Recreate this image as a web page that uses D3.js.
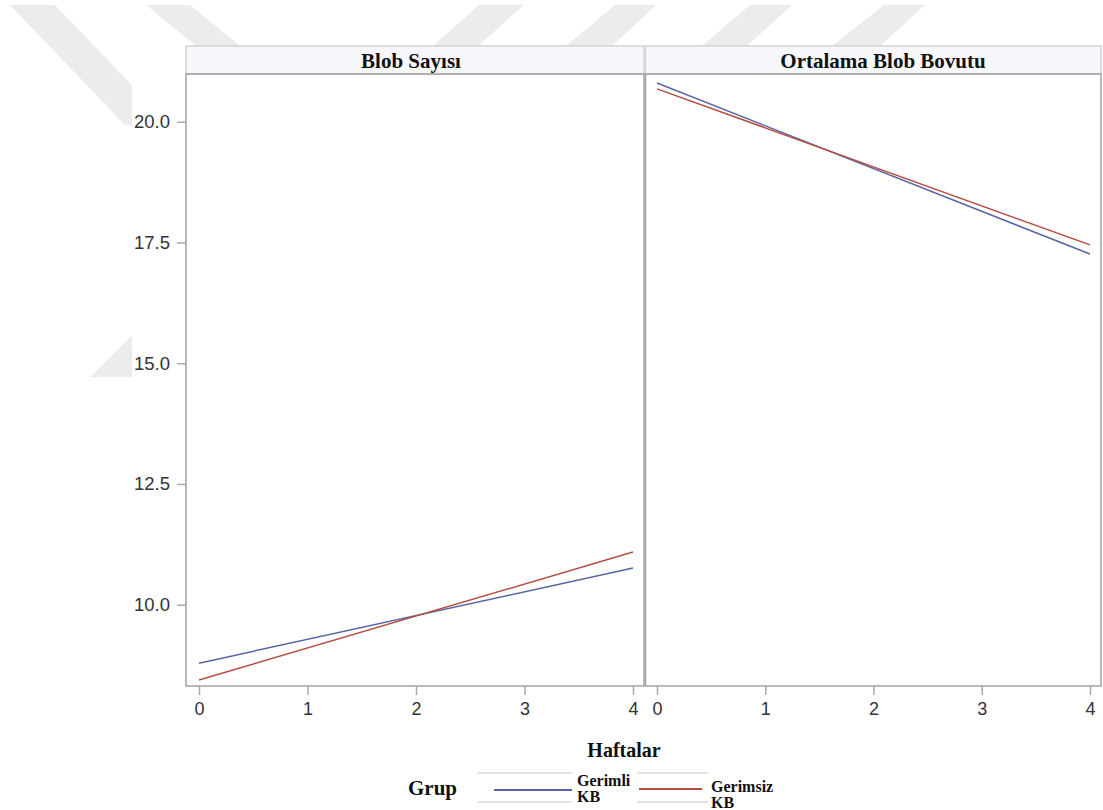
<!DOCTYPE html>
<html>
<head>
<meta charset="utf-8">
<script src="https://cdn.jsdelivr.net/npm/d3@7"></script>
<style>
  body { margin: 0; background: #fff; }
  svg { display: block; }
</style>
</head>
<body>
<svg id="chart"></svg>
<script>
let w = 1103
let h = 810

// data
const weeks = [0, 4]
const panelTitles = ["Blob Sayısı", "Ortalama Blob Bovutu"]
const groups = ["Gerimli KB", "Gerimsiz KB"]
const blobSayisiGerimli = [8.79, 10.76]
const blobSayisiGerimsiz = [8.44, 11.09]
const blobBoyutuGerimli = [20.80, 17.26]
const blobBoyutuGerimsiz = [20.68, 17.45]
const xTicks = [0, 1, 2, 3, 4]
const yTicks = [10.0, 12.5, 15.0, 17.5, 20.0]

const colors = ["#5766a3", "#b44c41"]

let svg = d3.select("#chart").attr("width", w).attr("height", h)

// faint watermark behind the chart image
let wm = [
  [[10, 5], [55, 5], [170, 125], [125, 125]],
  [[146, 5], [190, 5], [240, 46], [196, 46]],
  [[479, 5], [524, 5], [478, 46], [433, 46]],
  [[615, 5], [656, 5], [612, 46], [566, 46]],
  [[750, 5], [792, 5], [747, 46], [702, 46]],
  [[884, 5], [925, 5], [880, 46], [832, 46]],
  [[90, 377], [132, 335], [132, 377]]
]
svg.selectAll(".wm").data(wm).join("polygon")
  .attr("class", "wm")
  .attr("points", d => d.map(p => p.join(",")).join(" "))
  .attr("fill", "#ececec")

svg.append("rect")
  .attr("x", 132).attr("y", 46).attr("width", w - 132).attr("height", h - 46)
  .attr("fill", "#fff")

let plotTop = 74, plotBottom = 686, headTop = 46
let panels = [
  { left: 186, right: 644, x0: 199, x4: 633, tx: 411,
    series: [blobSayisiGerimli, blobSayisiGerimsiz] },
  { left: 645.5, right: 1101, x0: 657, x4: 1090, tx: 883,
    series: [blobBoyutuGerimli, blobBoyutuGerimsiz] }
]

let y = d3.scaleLinear().domain([10, 20]).range([604.7, 121.7])

panels.forEach((p, i) => {
  let x = d3.scaleLinear().domain([0, 4]).range([p.x0, p.x4])

  // header strip
  svg.append("rect")
    .attr("x", p.left).attr("y", headTop)
    .attr("width", p.right - p.left).attr("height", plotTop - headTop)
    .attr("fill", "#f6f8fb").attr("stroke", "#d2d2d2").attr("stroke-width", 1.5)
  svg.append("text")
    .attr("x", p.tx).attr("y", 68)
    .attr("text-anchor", "middle")
    .attr("font-family", "Liberation Serif, Times New Roman, serif")
    .attr("font-weight", "bold").attr("font-size", 21)
    .attr("fill", "#111")
    .text(panelTitles[i])

  // x axis
  let gx = svg.append("g")
    .attr("transform", `translate(0,${plotBottom})`)
    .call(d3.axisBottom(x).tickValues(xTicks).tickSize(9).tickPadding(7).tickFormat(d3.format("d")))
  gx.select(".domain").remove()
  gx.selectAll("line").attr("stroke", "#a8a8a8").attr("stroke-width", 1.5)
  gx.selectAll("text").attr("font-family", "Liberation Sans, Arial, sans-serif")
    .attr("font-size", 18).attr("fill", "#333")

  // lines
  let line = d3.line().x((d, k) => x(weeks[k])).y(d => y(d))
  p.series.forEach((s, k) => {
    svg.append("path")
      .attr("d", line(s))
      .attr("fill", "none")
      .attr("stroke", colors[k])
      .attr("stroke-width", 1.5)
  })

  // frame
  svg.append("rect")
    .attr("x", p.left).attr("y", plotTop)
    .attr("width", p.right - p.left).attr("height", plotBottom - plotTop)
    .attr("fill", "none").attr("stroke", "#a3a3a3").attr("stroke-width", 1.5)
})

// y axis on the left panel only
let gy = svg.append("g")
  .attr("transform", `translate(${panels[0].left},0)`)
  .call(d3.axisLeft(y).tickValues(yTicks).tickSize(9).tickPadding(7).tickFormat(d3.format(".1f")))
gy.select(".domain").remove()
gy.selectAll("line").attr("stroke", "#a8a8a8").attr("stroke-width", 1.5)
gy.selectAll("text").attr("font-family", "Liberation Sans, Arial, sans-serif")
  .attr("font-size", 18.5).attr("fill", "#333")

// x axis title
svg.append("text")
  .attr("x", 624).attr("y", 757)
  .attr("text-anchor", "middle")
  .attr("font-family", "Liberation Serif, Times New Roman, serif")
  .attr("font-weight", "bold").attr("font-size", 20)
  .attr("fill", "#111")
  .text("Haftalar")

// legend
let serif = "Liberation Serif, Times New Roman, serif"
svg.append("text")
  .attr("x", 408).attr("y", 795)
  .attr("font-family", serif).attr("font-weight", "bold").attr("font-size", 21)
  .attr("fill", "#111")
  .text("Grup")

let legendItems = [
  { x1: 494, x2: 572, ly: 790, tx: 577, ty: 786, g1: 478, g2: 572 },
  { x1: 639, x2: 702, ly: 789, tx: 711, ty: 792, g1: 637, g2: 708 }
]
legendItems.forEach((it, k) => {
  ;[773, 802].forEach(gyy => {
    svg.append("line")
      .attr("x1", it.g1).attr("x2", it.g2).attr("y1", gyy).attr("y2", gyy)
      .attr("stroke", "#e3e3e3").attr("stroke-width", 2)
  })
  svg.append("line")
    .attr("x1", it.x1).attr("x2", it.x2).attr("y1", it.ly).attr("y2", it.ly)
    .attr("stroke", colors[k]).attr("stroke-width", 1.8)
  let parts = groups[k].split(" ")
  let t = svg.append("text")
    .attr("font-family", serif).attr("font-weight", "bold").attr("font-size", 16)
    .attr("fill", "#111")
  t.append("tspan").attr("x", it.tx).attr("y", it.ty).text(parts[0])
  t.append("tspan").attr("x", it.tx).attr("y", it.ty + 16).text(parts[1])
})
</script>
</body>
</html>
